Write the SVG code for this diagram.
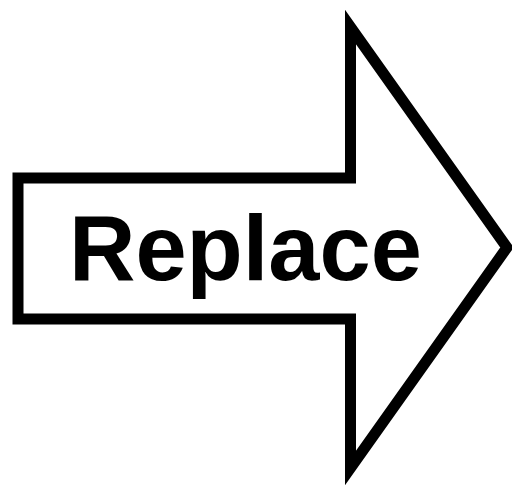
<svg xmlns="http://www.w3.org/2000/svg" width="512" height="487" viewBox="0 0 512 487">
<style>
.arrow{fill:#fff;stroke:#000;stroke-width:11;stroke-linejoin:miter;stroke-miterlimit:10}
.lbl{font-family:"Liberation Sans",Arial,Helvetica,sans-serif;font-weight:bold;font-size:92px;fill:#000}
</style>
<rect width="512" height="487" fill="#fff"/>
<g id="replace-arrow">
<polygon class="arrow" points="18,178 350.5,178 350.5,27 507,247.5 350.5,468 350.5,319 18,319"/>
<text class="lbl" x="69" y="280">Replace</text>
</g>
</svg>
